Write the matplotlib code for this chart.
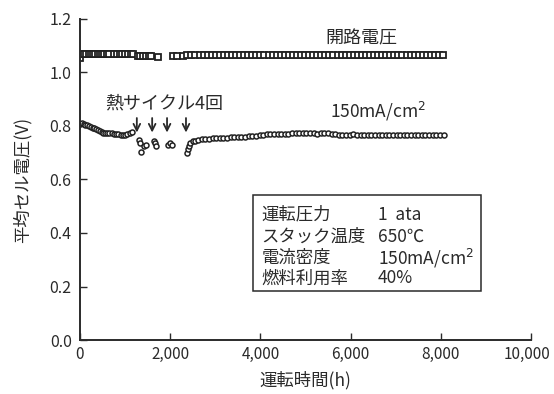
import matplotlib
matplotlib.use('Agg')
import matplotlib.pyplot as plt
from matplotlib.transforms import ScaledTranslation

plt.rcParams['font.family'] = ['Noto Sans CJK JP', 'DejaVu Sans']

# open circuit voltage (square markers)
ocv_hours = [0, 40, 90, 140, 190, 240, 290, 340, 390, 440, 490, 540, 590, 640,
             760, 820, 880, 940, 1000, 1060, 1120, 1180,
             1280, 1340, 1400, 1460, 1520, 1580, 1720, 2070, 2160,
             2290, 2380, 2470, 2560, 2650, 2740, 2830, 2920, 3010, 3100,
             3190, 3280, 3370, 3460, 3550, 3640, 3730, 3820, 3910, 4000,
             4090, 4180, 4270, 4360, 4450, 4540, 4630, 4720, 4810, 4900,
             4990, 5080, 5170, 5260, 5350, 5440, 5530, 5620, 5710, 5800,
             5890, 5980, 6070, 6160, 6250, 6340, 6430, 6520, 6610, 6700,
             6790, 6880, 6970, 7060, 7150, 7240, 7330, 7420, 7510, 7600,
             7690, 7780, 7870, 7960, 8050]
ocv_volts = [1.055, 1.068, 1.07, 1.07, 1.069, 1.07, 1.07, 1.069, 1.07, 1.07, 1.069, 1.07, 1.07, 1.069,
             1.07, 1.07, 1.069, 1.07, 1.07, 1.069, 1.07, 1.07,
             1.062, 1.062, 1.06, 1.061, 1.062, 1.06, 1.058, 1.062, 1.063,
             1.063, 1.064, 1.064, 1.064, 1.065, 1.065, 1.064, 1.065, 1.065, 1.064,
             1.065, 1.065, 1.065, 1.064, 1.065, 1.065, 1.066, 1.065, 1.065, 1.066,
             1.066, 1.066, 1.065, 1.066, 1.066, 1.066, 1.066, 1.066, 1.066, 1.066,
             1.066, 1.066, 1.066, 1.067, 1.066, 1.066, 1.066, 1.066, 1.067, 1.067,
             1.067, 1.066, 1.067, 1.067, 1.067, 1.067, 1.067, 1.067, 1.067, 1.067,
             1.067, 1.067, 1.067, 1.067, 1.067, 1.067, 1.067, 1.067, 1.067, 1.067,
             1.067, 1.067, 1.067, 1.067, 1.067]

# cell voltage at 150 mA/cm2 (circle markers)
load_hours = [0, 40, 80, 120, 160, 200, 240, 280, 320, 360, 400, 440, 480, 520,
              560, 600, 650, 700, 750, 800, 850, 900, 950, 1000, 1050, 1100, 1150,
              1300, 1330, 1360, 1420, 1460, 1640, 1660, 1690, 1950, 1990, 2040,
              2370, 2400, 2420, 2450, 2500,
              2560, 2620, 2700, 2780, 2860, 2940, 3020, 3100, 3180, 3260, 3340,
              3420, 3500, 3580, 3660, 3740, 3820, 3900, 3980, 4060, 4140, 4220,
              4300, 4380, 4460, 4540, 4620, 4700, 4780, 4860, 4940, 5020, 5100,
              5180, 5260, 5340, 5420, 5500, 5580, 5660, 5740, 5820, 5900, 5980,
              6060, 6140, 6220, 6300, 6380, 6460, 6540, 6620, 6700, 6780, 6860,
              6940, 7020, 7100, 7180, 7260, 7340, 7420, 7500, 7580, 7660, 7740,
              7820, 7900, 7980, 8060]
load_volts = [0.808, 0.81, 0.806, 0.805, 0.803, 0.8, 0.797, 0.794, 0.792, 0.79, 0.785, 0.782, 0.778, 0.775,
              0.774, 0.773, 0.772, 0.772, 0.771, 0.77, 0.769, 0.768, 0.767, 0.768, 0.77, 0.772, 0.776,
              0.748, 0.735, 0.703, 0.725, 0.73, 0.745, 0.735, 0.725, 0.728, 0.735, 0.73,
              0.70, 0.715, 0.725, 0.735, 0.742,
              0.745, 0.748, 0.75, 0.752, 0.753, 0.754, 0.755, 0.755, 0.756, 0.756, 0.757,
              0.758, 0.758, 0.759, 0.76, 0.761, 0.762, 0.763, 0.767, 0.768, 0.769, 0.769,
              0.77, 0.77, 0.769, 0.77, 0.771, 0.772, 0.772, 0.773, 0.774, 0.773, 0.772,
              0.772, 0.771, 0.772, 0.773, 0.772, 0.771, 0.77, 0.768, 0.766, 0.767, 0.768,
              0.769, 0.768, 0.767, 0.766, 0.766, 0.767, 0.768, 0.767, 0.766, 0.766, 0.767,
              0.767, 0.766, 0.766, 0.767, 0.767, 0.766, 0.766, 0.766, 0.767, 0.766, 0.766,
              0.766, 0.766, 0.765, 0.765]

# thermal cycle times
cycle_hours = [1260, 1600, 1930, 2350]

x_ticks = [0, 2000, 4000, 6000, 8000, 10000]
x_tick_labels = ['0', '2,000', '4,000', '6,000', '8,000', '10,000']
y_ticks = [0.0, 0.2, 0.4, 0.6, 0.8, 1.0, 1.2]

conditions = [('運転圧力', '1  ata'),
              ('スタック温度', '650℃'),
              ('電流密度', '150mA/cm$^2$'),
              ('燃料利用率', '40%')]

ink = '#2a2a2a'

fig = plt.figure(figsize=(5.54, 3.94), dpi=100)
ax = fig.add_axes([0.1444, 0.137, 0.8141, 0.815])

ax.plot(ocv_hours, ocv_volts, linestyle='none', marker='s', markersize=4.2,
        markerfacecolor='white', markeredgecolor='#222222', markeredgewidth=1.3)
ax.plot(load_hours, load_volts, linestyle='none', marker='o', markersize=3.6,
        markerfacecolor='white', markeredgecolor='#222222', markeredgewidth=1.1)

ax.set_xlim(0, 10000)
ax.set_ylim(0, 1.2)
ax.set_xticks(x_ticks)
ax.set_xticklabels(x_tick_labels)
ax.set_yticks(y_ticks)
ax.set_yticklabels([f'{v:.1f}' for v in y_ticks])
ax.tick_params(direction='in', length=5, width=1, colors=ink, labelsize=11.5, pad=6)
ax.tick_params(axis='x', pad=4, labelsize=11)
# nudge the last x label left so it stays on the canvas
last = ax.get_xticklabels()[-1]
last.set_transform(last.get_transform() + ScaledTranslation(-3 / 72, 0, fig.dpi_scale_trans))

for side in ['top', 'right']:
    ax.spines[side].set_visible(False)
for side in ['left', 'bottom']:
    ax.spines[side].set_linewidth(1.4)
    ax.spines[side].set_color(ink)

ax.set_xlabel('運転時間(h)', fontsize=12.5, color=ink)
ax.set_ylabel('平均セル電圧(V)', fontsize=12.5, color=ink)
ax.xaxis.set_label_coords(0.5, -0.095)
ax.yaxis.set_label_coords(-0.108, 0.5)

ax.text(6230, 1.092, '開路電圧', fontsize=13, color=ink, ha='center', va='bottom')
ax.text(6600, 0.812, '150mA/cm$^2$', fontsize=12.5, color=ink, ha='center', va='bottom')
ax.text(1870, 0.85, '熱サイクル4回', fontsize=13, color=ink, ha='center', va='bottom')

for h in cycle_hours:
    ax.annotate('', xy=(h, 0.765), xytext=(h, 0.84),
                arrowprops=dict(arrowstyle='->', color=ink, lw=1.3,
                                mutation_scale=12))

# operating conditions box
box = plt.Rectangle((3840, 0.183), 5050, 0.36, fill=False, edgecolor=ink, linewidth=1.1)
ax.add_patch(box)
row_y = [0.468, 0.385, 0.306, 0.23]
for (label, value), yy in zip(conditions, row_y):
    ax.text(4020, yy, label, fontsize=12.5, color=ink, va='center')
    ax.text(6600, yy, value, fontsize=12.5, color=ink, va='center')

fig.savefig('out.png', dpi=100)
